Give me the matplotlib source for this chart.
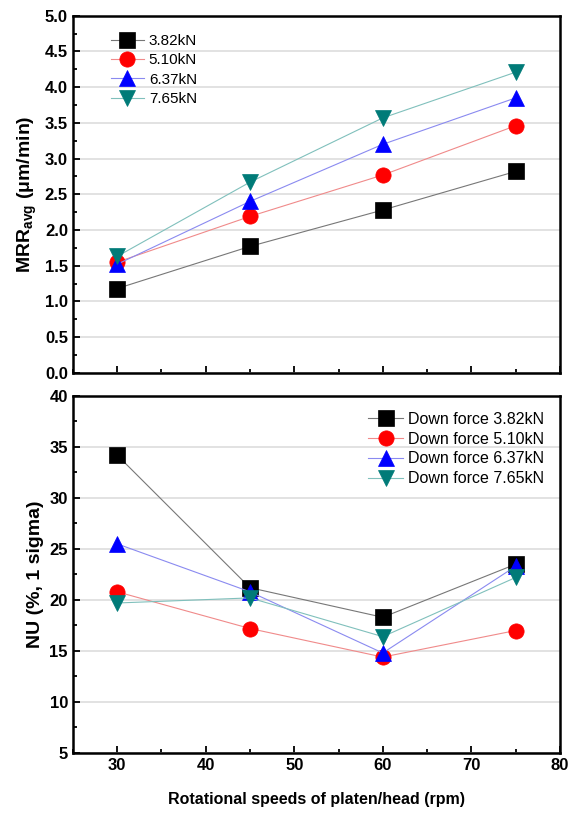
import matplotlib.pyplot as plt
from matplotlib.ticker import MultipleLocator

# Data
speed = [30, 45, 60, 75]
forces = ["3.82kN", "5.10kN", "6.37kN", "7.65kN"]

mrr_382 = [1.18, 1.77, 2.28, 2.82]
mrr_510 = [1.55, 2.19, 2.77, 3.46]
mrr_637 = [1.52, 2.40, 3.20, 3.85]
mrr_765 = [1.63, 2.67, 3.57, 4.21]

nu_382 = [34.2, 21.2, 18.3, 23.5]
nu_510 = [20.8, 17.2, 14.4, 17.0]
nu_637 = [25.5, 20.8, 14.8, 23.3]
nu_765 = [19.7, 20.2, 16.4, 22.2]

colors = ["black", "red", "blue", "#007b78"]
line_colors = ["#777777", "#f08a8a", "#8a8af0", "#80c0bc"]
markers = ["s", "o", "^", "v"]

plt.rcParams['font.family'] = ['Liberation Sans', 'DejaVu Sans']

fig = plt.figure(figsize=(5.69, 8.14), dpi=100)
ax1 = fig.add_axes([0.128, 0.542, 0.856, 0.4386])
ax2 = fig.add_axes([0.128, 0.075, 0.856, 0.4386])


def style(ax, major, minor):
    ax.set_xlim(25, 80)
    ax.xaxis.set_major_locator(MultipleLocator(10))
    ax.xaxis.set_minor_locator(MultipleLocator(5))
    ax.yaxis.set_major_locator(MultipleLocator(major))
    ax.yaxis.set_minor_locator(MultipleLocator(minor))
    ax.tick_params(which='both', direction='in', width=1.3)
    ax.tick_params(which='major', length=5, labelsize=12)
    ax.tick_params(which='minor', length=3)
    ax.grid(True, axis='y', color='#dddddd', linewidth=1.2)
    ax.set_axisbelow(True)
    for s in ax.spines.values():
        s.set_linewidth(1.8)
    for lab in ax.get_xticklabels() + ax.get_yticklabels():
        lab.set_fontweight('bold')


mrr = [mrr_382, mrr_510, mrr_637, mrr_765]
for vals, c, lc, m, f in zip(mrr, colors, line_colors, markers, forces):
    ax1.plot(speed, vals, color=lc, marker=m, markersize=11, linewidth=0.8,
             markerfacecolor=c, markeredgecolor=c, markeredgewidth=0.5, label=f)
ax1.set_ylim(0, 5.0)
ax1.yaxis.set_major_formatter(plt.FormatStrFormatter('%.1f'))
style(ax1, 0.5, 0.25)
ax1.tick_params(axis='x', labelbottom=False)
ax1.set_ylabel(r"MRR$_{\mathregular{avg}}$ ($\mathregular{\mu}$m/min)", fontsize=14,
               fontweight='bold')
ax1.legend(loc='upper left', frameon=False, fontsize=11, borderaxespad=0.8,
           handletextpad=0.3, labelspacing=0.35, handlelength=2.2,
           bbox_to_anchor=(0.04, 1.0))

nu = [nu_382, nu_510, nu_637, nu_765]
for vals, c, lc, m, f in zip(nu, colors, line_colors, markers, forces):
    ax2.plot(speed, vals, color=lc, marker=m, markersize=11, linewidth=0.8,
             markerfacecolor=c, markeredgecolor=c, markeredgewidth=0.5,
             label="Down force " + f)
ax2.set_ylim(5, 40)
style(ax2, 5, 2.5)
ax2.set_ylabel("NU (%, 1 sigma)", fontsize=14, fontweight='bold')
ax2.set_xlabel("Rotational speeds of platen/head (rpm)", fontsize=11.5,
               fontweight='bold', labelpad=14)
ax2.legend(loc='upper right', frameon=False, fontsize=11.5, borderaxespad=0.6,
           handletextpad=0.3, labelspacing=0.3, handlelength=2.2)

fig.savefig("out.png", dpi=100)
